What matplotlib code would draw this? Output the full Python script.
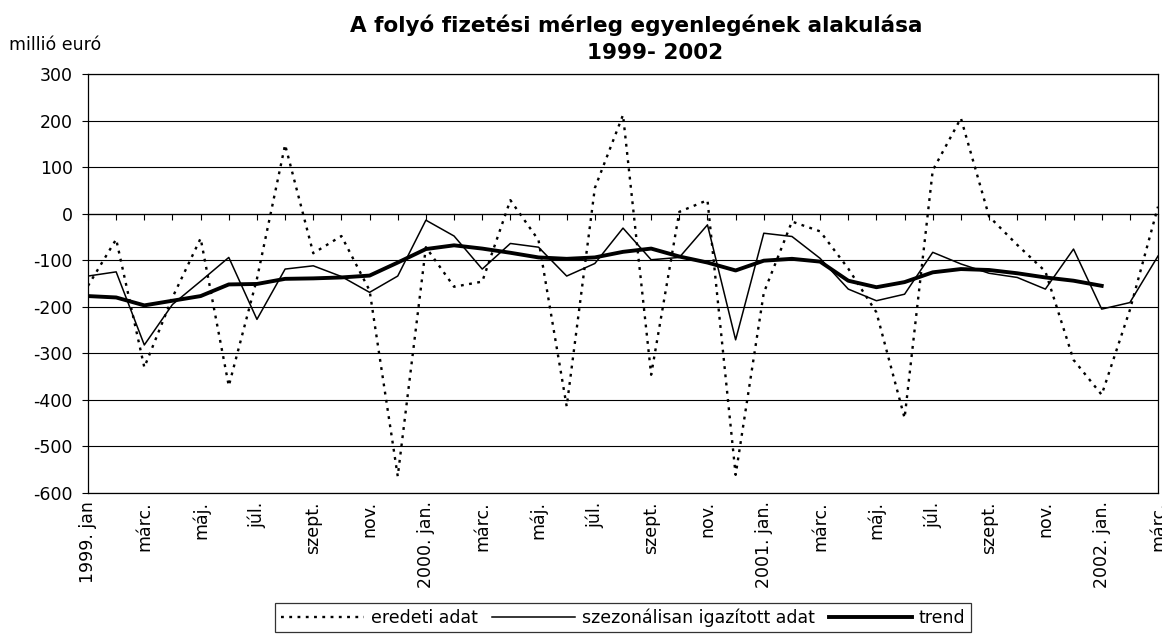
import numpy as np
import matplotlib
matplotlib.use("Agg")
import matplotlib.pyplot as plt

plt.rcParams["font.family"] = ["DejaVu Sans"]
plt.rcParams["axes.unicode_minus"] = False

# havi adatok, 1999. jan - 2002. márc.
eredeti_adat = [-155, -55, -330, -180, -53, -370, -140, 148, -85, -48, -165, -564,
                -72, -157, -146, 29, -57, -414, 55, 212, -346, 4, 29, -561,
                -170, -17, -38, -118, -212, -439, 93, 205, -6, -67, -124, -314,
                -389, -207, 15]
szezonalis = [-134, -125, -282, -195, -145, -94, -227, -119, -112, -135, -169, -134,
              -14, -48, -119, -64, -72, -134, -107, -31, -99, -94, -24, -271,
              -42, -49, -96, -162, -187, -173, -83, -108, -128, -137, -162, -76,
              -205, -191, -91]
trend = [-177, -180, -197, -187, -177, -152, -151, -140, -139, -137, -133, -105,
         -76, -68, -75, -84, -94, -97, -94, -82, -75, -92, -105, -122,
         -101, -97, -103, -144, -158, -147, -126, -119, -121, -128, -137, -144,
         -155, np.nan, np.nan]
tick_labels = ["1999. jan", "márc.", "máj.", "júl.", "szept.", "nov.",
               "2000. jan.", "márc.", "máj.", "júl.", "szept.", "nov.",
               "2001. jan.", "márc.", "máj.", "júl.", "szept.", "nov.",
               "2002. jan.", "márc."]

months = np.arange(len(eredeti_adat))
YMIN, YMAX = -600, 300

fig = plt.figure(figsize=(11.62, 6.35), dpi=100)
ax = fig.add_axes([88 / 1162, 1 - 493 / 635, 1070 / 1162, 419 / 635])

ax.plot(months, eredeti_adat, color="black", lw=1.7, linestyle=(0, (1.2, 2.3)),
        label="eredeti adat")
ax.plot(months, szezonalis, color="black", lw=1.1, label="szezonálisan igazított adat")
ax.plot(months, trend, color="black", lw=2.8, label="trend")

ax.set_xlim(0, len(months) - 1)
ax.set_ylim(YMIN, YMAX)
ax.set_yticks(range(YMIN, YMAX + 1, 100))
ax.yaxis.grid(True, color="black", lw=0.8)
ax.set_axisbelow(True)
ax.tick_params(axis="y", direction="out", length=4, labelsize=12.5, pad=7)

ax.set_xticks(months[::2])
ax.set_xticklabels(tick_labels, rotation=90, fontsize=12.5)
ax.tick_params(axis="x", length=0, pad=6)

for sp in ax.spines.values():
    sp.set_linewidth(0.9)
    sp.set_color("black")

# kategóriatengely a 0-nál, havi osztásokkal
sec = ax.secondary_xaxis((0 - YMIN) / (YMAX - YMIN))
sec.set_xticks(months)
sec.xaxis.set_ticks_position("bottom")
sec.tick_params(axis="x", direction="out", length=4, labelbottom=False, labeltop=False)
for sp in sec.spines.values():
    sp.set_linewidth(0.9)

fig.text(636 / 1162, 1 - 25 / 635, "A folyó fizetési mérleg egyenlegének alakulása",
         ha="center", va="center", fontsize=15.5, fontweight="bold")
fig.text(655 / 1162, 1 - 53 / 635, "1999- 2002",
         ha="center", va="center", fontsize=15.5, fontweight="bold")
fig.text(9 / 1162, 1 - 45 / 635, "millió euró", ha="left", va="center", fontsize=12.5)

leg = fig.legend(loc="lower center", bbox_to_anchor=(623 / 1162, 3 / 635), ncol=3,
                 fontsize=12.5, frameon=True, fancybox=False, edgecolor="black",
                 handlelength=4.8, handletextpad=0.4, columnspacing=0.8,
                 borderpad=0.3, borderaxespad=0)
leg.get_frame().set_linewidth(0.9)

fig.savefig("out.png", dpi=100)
